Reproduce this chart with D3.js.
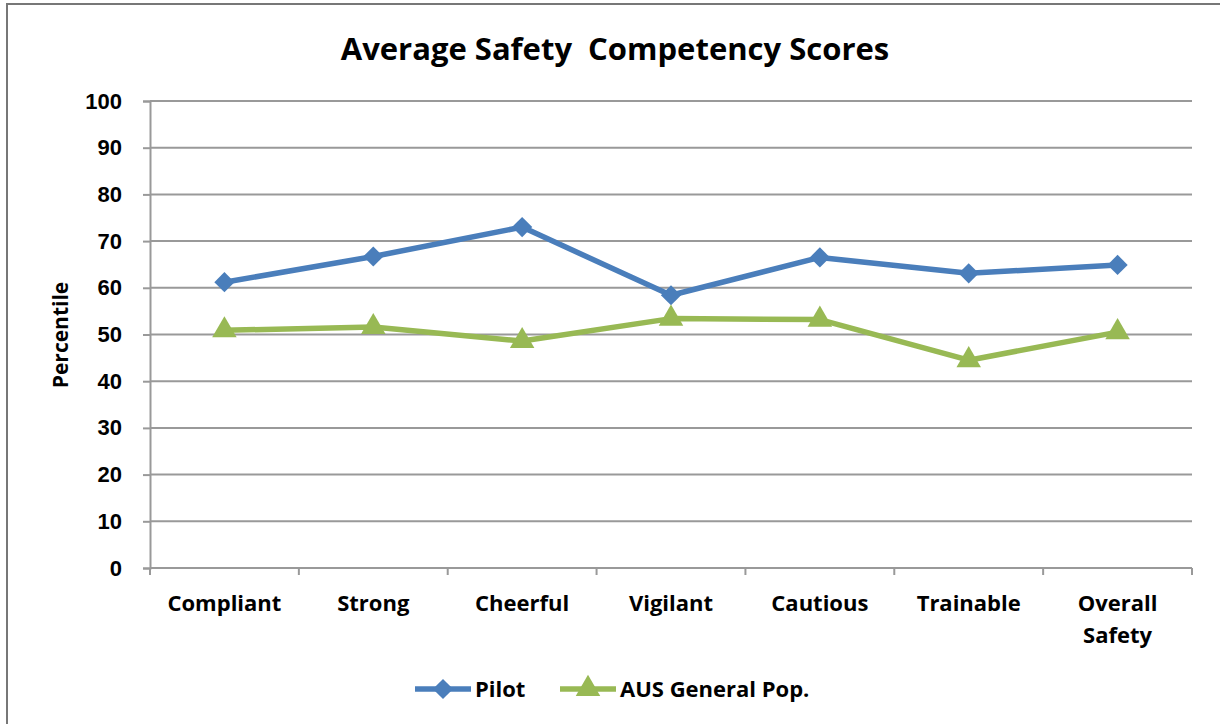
<!DOCTYPE html>
<html>
<head>
<meta charset="utf-8">
<script src="https://cdn.jsdelivr.net/npm/d3@7"></script>
<style>
  html, body { margin: 0; padding: 0; background: #fff; }
  svg { display: block; font-family: "Open Sans", Lato, sans-serif; }
  .tick text { font-weight: bold; fill: #000; }
</style>
</head>
<body>
<svg id="chart" width="1220" height="724"></svg>
<script>
// --- Data ------------------------------------------------------------
const categories = ["Compliant", "Strong", "Cheerful", "Vigilant", "Cautious", "Trainable", "Overall Safety"];
const pilot = [61.2, 66.7, 73.0, 58.4, 66.5, 63.1, 64.9];
const ausGeneral = [50.9, 51.6, 48.6, 53.4, 53.2, 44.5, 50.5];
const yTicks = [0, 10, 20, 30, 40, 50, 60, 70, 80, 90, 100];
const seriesNames = ["Pilot", "AUS General Pop."];

const W = 1220, H = 724;
const margin = { top: 101, right: 28, bottom: 156, left: 150 };
const svg = d3.select("#chart");

// outer frame (only left/top visible in the reference)
svg.append("rect")
  .attr("x", 7).attr("y", 4).attr("width", W + 10).attr("height", H + 10)
  .attr("fill", "none").attr("stroke", "#777").attr("stroke-width", 2);

const x = d3.scaleBand().domain(categories).range([margin.left, W - margin.right]);
const y = d3.scaleLinear().domain([0, 100]).range([H - margin.bottom, margin.top]);

// gridlines
svg.append("g").selectAll("line").data(yTicks.slice(1)).enter().append("line")
  .attr("x1", margin.left).attr("x2", W - margin.right)
  .attr("y1", (d) => y(d)).attr("y2", (d) => y(d))
  .attr("stroke", "#999").attr("stroke-width", 2);

// y axis
const yAxis = svg.append("g")
  .attr("transform", `translate(${margin.left},0)`)
  .call(d3.axisLeft(y).tickValues(yTicks).tickSize(7).tickPadding(21));
yAxis.select(".domain").attr("stroke", "#999").attr("stroke-width", 2);
yAxis.selectAll(".tick line").attr("stroke", "#999").attr("stroke-width", 2);
yAxis.selectAll(".tick text").attr("font-size", 22);

// x axis: ticks at category boundaries
const xg = svg.append("g").attr("transform", `translate(0,${y(0)})`);
xg.append("line")
  .attr("x1", margin.left).attr("x2", W - margin.right)
  .attr("stroke", "#999").attr("stroke-width", 2);
const bounds = categories.map((c) => x(c)).concat([x.range()[1]]);
xg.selectAll("line.tk").data(bounds).enter().append("line").attr("class", "tk")
  .attr("x1", (d) => d).attr("x2", (d) => d).attr("y1", 0).attr("y2", 7)
  .attr("stroke", "#999").attr("stroke-width", 2);
xg.selectAll("text").data(categories).enter().append("text")
  .attr("x", (d) => x(d) + x.bandwidth() / 2)
  .attr("y", 43)
  .attr("text-anchor", "middle")
  .attr("font-size", 22).attr("font-weight", "bold")
  .each(function (d) {
    const words = d === "Overall Safety" ? ["Overall", "Safety"] : [d];
    const t = d3.select(this);
    words.forEach((w, i) => t.append("tspan").attr("x", x(d) + x.bandwidth() / 2).attr("dy", i ? 32 : 0).text(w));
  });

// title & axis title
svg.append("text").attr("x", 615).attr("y", 60).attr("text-anchor", "middle")
  .attr("font-size", 31).attr("font-weight", "bold").attr("xml:space", "preserve")
  .text("Average Safety  Competency Scores");
svg.append("text").attr("transform", "translate(68,335) rotate(-90)")
  .attr("text-anchor", "middle").attr("font-size", 21).attr("font-weight", "bold")
  .text("Percentile");

// series
const colors = ["#4A7EBB", "#98B954"];
const cx = (i) => x(categories[i]) + x.bandwidth() / 2;
const line = d3.line().x((d, i) => cx(i)).y((d) => y(d));
const diamond = d3.symbol().type(d3.symbolDiamond2 || d3.symbolSquare2).size(260);
const tri = d3.symbol().type(d3.symbolTriangle).size(260);

[pilot, ausGeneral].forEach((vals, s) => {
  svg.append("path").datum(vals).attr("d", line)
    .attr("fill", "none").attr("stroke", colors[s]).attr("stroke-width", 5.5)
    .attr("stroke-linejoin", "round");
  svg.append("g").selectAll("path").data(vals).enter().append("path")
    .attr("d", s === 0 ? diamond : tri)
    .attr("transform", (d, i) => `translate(${cx(i)},${y(d)})`)
    .attr("fill", colors[s]);
});

// legend
const legendX = [415, 560];
seriesNames.forEach((name, s) => {
  const g = svg.append("g").attr("transform", `translate(${legendX[s]},689)`);
  g.append("line").attr("x1", 0).attr("x2", 56)
    .attr("stroke", colors[s]).attr("stroke-width", 5.5);
  g.append("path").attr("d", s === 0 ? diamond : tri)
    .attr("transform", "translate(28,0)").attr("fill", colors[s]);
  g.append("text").attr("x", 60).attr("y", 8).attr("font-size", 22)
    .attr("font-weight", "bold").text(name);
});
</script>
</body>
</html>
